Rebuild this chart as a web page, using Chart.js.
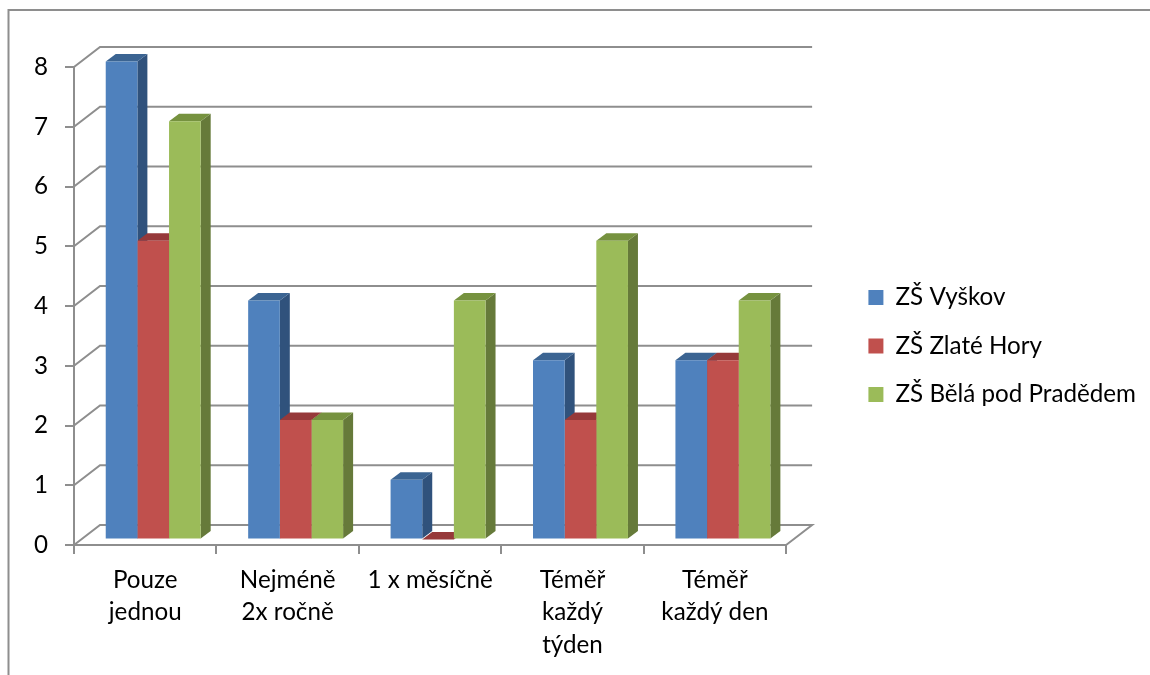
<!DOCTYPE html>
<html>
<head>
<meta charset="utf-8">
<style>
html, body { margin: 0; padding: 0; background: #fff; }
#graf { display: block; }
</style>
<script src="https://cdn.jsdelivr.net/npm/chart.js@4/dist/chart.umd.min.js"></script>
</head>
<body>
<div style="width:1150px;height:675px"><canvas id="graf" width="1150" height="675"></canvas></div>
<script>
// data
const categories = [['Pouze', 'jednou'], ['Nejméně', '2x ročně'], '1 x měsíčně', ['Téměř', 'každý', 'týden'], ['Téměř', 'každý den']];
const seriesNames = ['ZŠ Vyškov', 'ZŠ Zlaté Hory', 'ZŠ Bělá pod Pradědem'];
const vyskov = [8, 4, 1, 3, 3];
const zlateHory = [5, 2, 0, 2, 3];
const belaPodPradedem = [7, 2, 4, 5, 4];
const yTicks = [0, 1, 2, 3, 4, 5, 6, 7, 8];

const frontColors = ['#4f81bd', '#c0504d', '#9bbb59'];
const sideColors = ['#30527c', '#8b3836', '#667a3a'];
const topColors = ['#3b6492', '#96393a', '#76923f'];
const gridColor = '#8e8e8e';
const fontName = 'Lato, Carlito, sans-serif';

// depth of the floor and walls, and of the bars
const wallX = 26, wallY = -20;
const barShiftX = 8, barShiftY = -5.5;
const barDepthX = 10, barDepthY = -7.5;

function polygon(ctx, color, pts) {
    ctx.fillStyle = color;
    ctx.beginPath();
    pts.forEach((p, i) => i ? ctx.lineTo(p[0], p[1]) : ctx.moveTo(p[0], p[1]));
    ctx.closePath();
    ctx.fill();
}

const walls3d = {
    id: 'walls3d',
    beforeDraw(chart) {
        const ctx = chart.ctx;
        const area = chart.chartArea;
        ctx.save();
        // outer frame, open at the bottom and right
        ctx.strokeStyle = gridColor;
        ctx.lineWidth = 2;
        ctx.beginPath();
        ctx.moveTo(8.5, 675);
        ctx.lineTo(8.5, 10);
        ctx.lineTo(1150, 10);
        ctx.stroke();
        // back wall lines and the diagonals on the side wall
        yTicks.forEach(v => {
            const y = chart.scales.y.getPixelForValue(v);
            ctx.beginPath();
            ctx.moveTo(area.left, y);
            ctx.lineTo(area.left + wallX, y + wallY);
            ctx.lineTo(area.right + wallX, y + wallY);
            if (v === 0) ctx.lineTo(area.right, y);
            ctx.stroke();
        });
        ctx.restore();
    }
};

const bars3d = {
    id: 'bars3d',
    beforeDatasetsDraw(chart) {
        const ctx = chart.ctx;
        ctx.save();
        ctx.translate(barShiftX, barShiftY);
        // sides and tops first, the library paints the front faces over them
        chart.data.datasets.forEach((ds, d) => {
            chart.getDatasetMeta(d).data.forEach(bar => {
                const l = bar.x - bar.width / 2, r = bar.x + bar.width / 2;
                polygon(ctx, sideColors[d], [[r, bar.y], [r + barDepthX, bar.y + barDepthY], [r + barDepthX, bar.base + barDepthY], [r, bar.base]]);
                polygon(ctx, topColors[d], [[l, bar.y], [l + barDepthX, bar.y + barDepthY], [r + barDepthX, bar.y + barDepthY], [r, bar.y]]);
            });
        });
    },
    afterDatasetsDraw(chart) {
        chart.ctx.restore();
    }
};

new Chart(document.getElementById('graf').getContext('2d'), {
    type: 'bar',
    plugins: [walls3d, bars3d],
    data: {
        labels: categories,
        datasets: [
            { label: seriesNames[0], data: vyskov, backgroundColor: frontColors[0], clip: false },
            { label: seriesNames[1], data: zlateHory, backgroundColor: frontColors[1], clip: false },
            { label: seriesNames[2], data: belaPodPradedem, backgroundColor: frontColors[2], clip: false }
        ]
    },
    options: {
        responsive: false,
        animation: false,
        layout: { padding: { top: 17, bottom: 0, left: 0, right: 4 } },
        datasets: { bar: { barPercentage: 1, categoryPercentage: 2 / 3, borderWidth: 0 } },
        plugins: {
            tooltip: { enabled: false },
            legend: {
                position: 'right',
                maxWidth: 320,
                labels: {
                    boxWidth: 15,
                    boxHeight: 15,
                    padding: 24.3,
                    color: '#000',
                    font: { family: fontName, size: 24.2 }
                }
            }
        },
        scales: {
            x: {
                grid: { drawOnChartArea: false, color: gridColor, lineWidth: 2, tickLength: 9 },
                border: { color: gridColor, width: 2 },
                ticks: {
                    color: '#000',
                    autoSkip: false,
                    maxRotation: 0,
                    padding: 10,
                    font: { family: fontName, size: 24.2, lineHeight: 1.34 }
                },
                afterFit(s) { s.height = 130; }
            },
            y: {
                min: 0,
                max: 8,
                grid: { drawOnChartArea: false, color: gridColor, lineWidth: 2, tickLength: 9 },
                border: { color: gridColor, width: 2 },
                ticks: {
                    color: '#000',
                    stepSize: 1,
                    padding: 17,
                    font: { family: fontName, size: 24.2 }
                },
                afterFit(s) { s.width = 74; }
            },
            // empty axes, they keep the gaps above the plot and before the legend
            spacerTop: {
                position: 'top',
                grid: { display: false },
                border: { display: false },
                ticks: { display: false },
                afterFit(s) { s.height = 50; }
            },
            spacer: {
                position: 'right',
                grid: { display: false },
                border: { display: false },
                ticks: { display: false },
                afterFit(s) { s.width = 58; }
            }
        }
    }
});
</script>
</body>
</html>
